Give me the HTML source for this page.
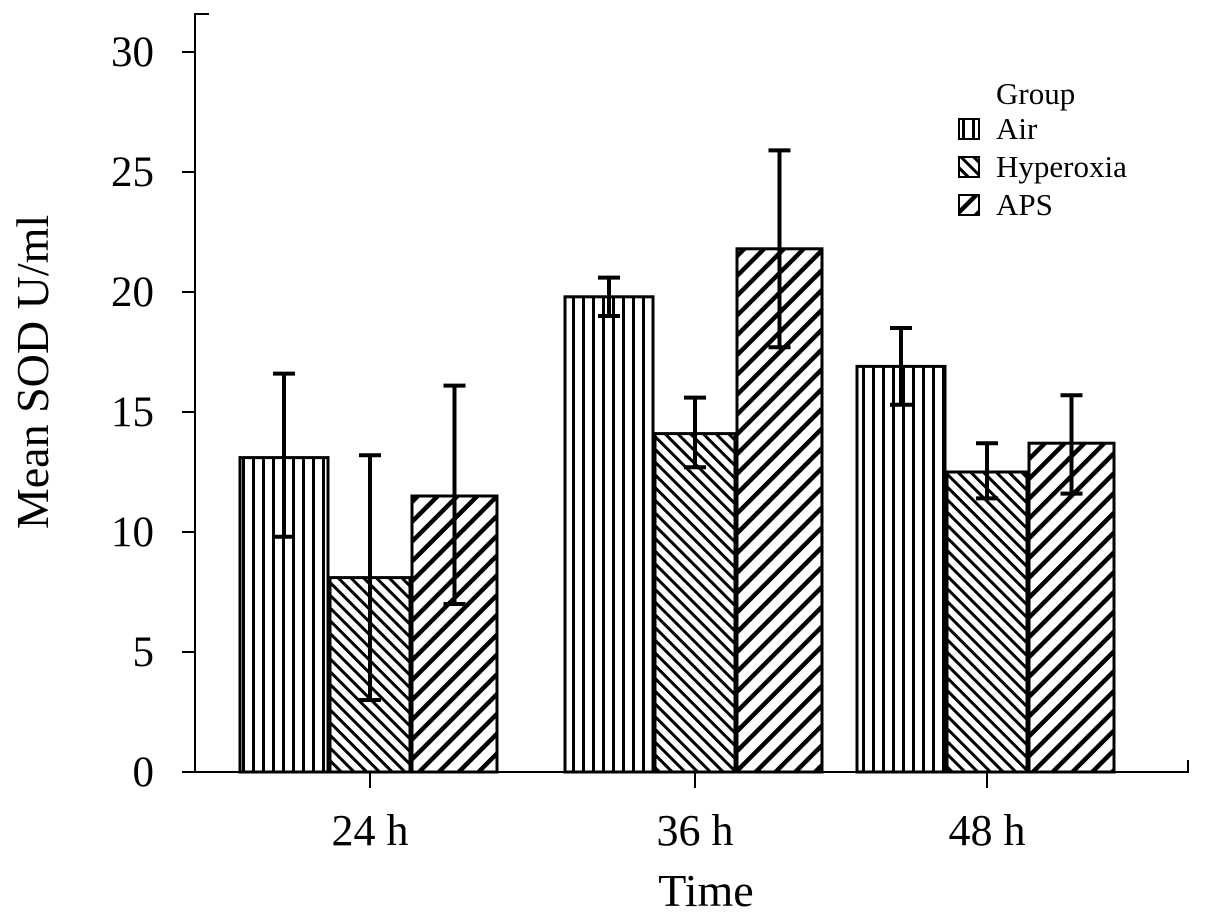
<!DOCTYPE html>
<html><head><meta charset="utf-8"><style>
body{margin:0;background:#fff;}
svg{display:block;font-family:"Liberation Serif",serif;}
</style></head><body>
<svg id="c" width="1205" height="914" viewBox="0 0 1205 914">
<defs>
<pattern id="pAir" patternUnits="userSpaceOnUse" width="10" height="10" x="242"><rect width="10" height="10" fill="#fff"/><rect x="0" width="3" height="10" fill="#000"/></pattern>
<pattern id="pHyp" patternUnits="userSpaceOnUse" width="9" height="9" patternTransform="rotate(-45)"><rect width="9" height="9" fill="#fff"/><rect x="0" width="3" height="9" fill="#000"/></pattern>
<pattern id="pAps" patternUnits="userSpaceOnUse" width="14" height="14" patternTransform="rotate(45)"><rect width="14" height="14" fill="#fff"/><rect x="0" width="4.5" height="14" fill="#000"/></pattern>
</defs>
</svg>
<script>
const categories=["24 h","36 h","48 h"];
const series=["Air","Hyperoxia","APS"];
const airVals=[13.1,19.8,16.9];
const hypVals=[8.1,14.1,12.5];
const apsVals=[11.5,21.8,13.7];
const airErr=[[9.8,16.6],[19.0,20.6],[15.3,18.5]];
const hypErr=[[3.0,13.2],[12.7,15.6],[11.4,13.7]];
const apsErr=[[7.0,16.1],[17.7,25.9],[11.6,15.7]];
const yTicks=[0,5,10,15,20,25,30];
const NS="http://www.w3.org/2000/svg";
const svg=document.getElementById('c');
const y=v=>772-v*24;
const groupX=[240,565,857];
const barW=[88,80,85],barOff=[0,90,172];
const fills=["url(#pAir)","url(#pHyp)","url(#pAps)"];
function mk(t,a,p){const e=document.createElementNS(NS,t);for(const k in a)e.setAttribute(k,a[k]);(p||svg).appendChild(e);return e;}
const ax=mk('path',{d:'M209 14 H195 V772 H1188 V760',stroke:'#000','stroke-width':2,fill:'none'});


yTicks.forEach(t=>{
 const l=mk('line',{x1:182,x2:195,y1:y(t),y2:y(t),stroke:'#000','stroke-width':2});
 
 
 const tx=mk('text',{x:154,y:y(t)+14,'font-size':43,'text-anchor':'end'});tx.textContent=t;
 
 
});
const vals=[airVals,hypVals,apsVals],errs=[airErr,hypErr,apsErr];
categories.forEach((c,i)=>{
 series.forEach((s,j)=>{
  const x=groupX[i]+barOff[j],w=barW[j],v=vals[j][i];
  const r=mk('rect',{x:x,y:y(v),width:w,height:y(0)-y(v),fill:fills[j],stroke:'#000','stroke-width':3});
  
  
  const cx=x+w/2,e=errs[j][i];
  const eb=mk('path',{d:`M${cx} ${y(e[0])} V${y(e[1])} M${cx-11} ${y(e[0])} H${cx+11} M${cx-11} ${y(e[1])} H${cx+11}`,stroke:'#000','stroke-width':4,fill:'none'});
  
  
 });
 const tk=mk('line',{x1:groupX[i]+barOff[1]+40,x2:groupX[i]+barOff[1]+40,y1:772,y2:788,stroke:'#000','stroke-width':2});
 
 
 const tl=mk('text',{x:groupX[i]+barOff[1]+40,y:845,'font-size':44,'text-anchor':'middle'});tl.textContent=c;
 
 
});
const xt=mk('text',{x:706,y:906,'font-size':46,'text-anchor':'middle'});xt.textContent="Time";


const yt=mk('text',{x:0,y:0,'font-size':46,'text-anchor':'middle',transform:'translate(48 372) rotate(-90)'});yt.textContent="Mean SOD U/ml";


const lg=mk('g',{});


const lt=mk('text',{x:996,y:104,'font-size':31},lg);lt.textContent="Group";
series.forEach((s,j)=>{
 const yy=119+j*38;
 const sw=mk('rect',{x:959,y:yy,width:20,height:20,fill:fills[j],stroke:'#000','stroke-width':2},lg);
 
 
 const t=mk('text',{x:996,y:yy+20,'font-size':31},lg);t.textContent=s;
 
 
});
</script>
</body></html>
